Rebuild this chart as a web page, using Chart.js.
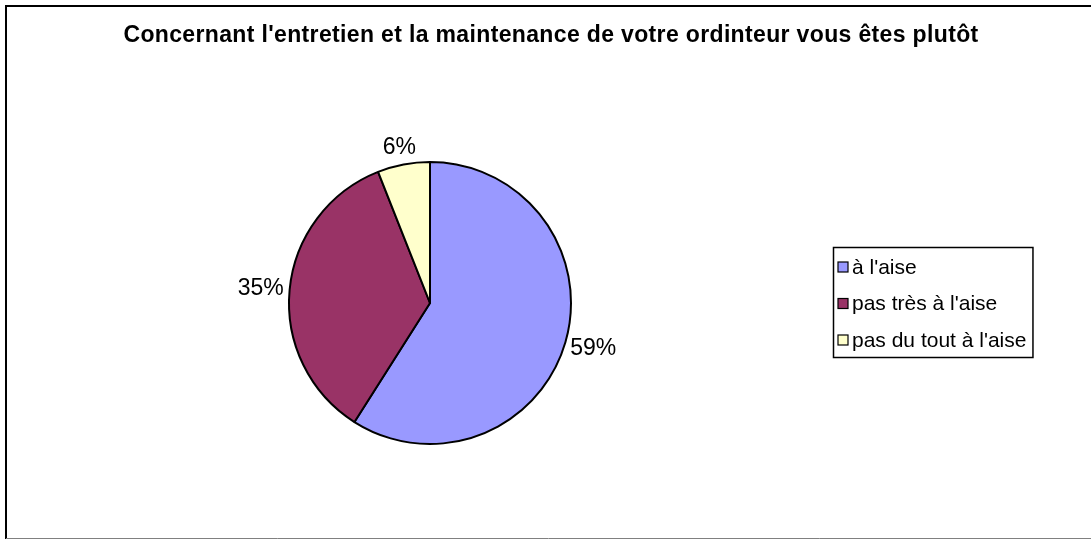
<!DOCTYPE html>
<html><head><meta charset="utf-8">
<script src="https://cdn.jsdelivr.net/npm/chart.js@4"></script>
<style>html,body{margin:0;padding:0;background:#fff;} canvas{display:block;}</style>
</head><body>
<canvas id="c" width="1091" height="540"></canvas>
<script>
const titleText = "Concernant l'entretien et la maintenance de votre ordinteur vous êtes plutôt";
const categories = ["à l'aise", "pas très à l'aise", "pas du tout à l'aise"];
const values = [59, 35, 6];
const valueLabels = ["59%", "35%", "6%"];
const colors = ["#9999FF", "#993366", "#FFFFCC"];

const FONT = '"Liberation Sans", Arial, sans-serif';

const framePlugin = {
  id: 'frame',
  beforeDraw(chart) {
    const ctx = chart.ctx;
    ctx.save();
    ctx.fillStyle = '#fff';
    ctx.fillRect(0, 0, chart.width, chart.height);
    ctx.strokeStyle = '#000';
    ctx.lineWidth = 2;
    ctx.beginPath();
    ctx.moveTo(6, 539); ctx.lineTo(6, 6); ctx.lineTo(chart.width, 6);
    ctx.stroke();
    ctx.strokeStyle = '#808080';
    ctx.lineWidth = 1;
    ctx.beginPath();
    ctx.moveTo(6, 538.5); ctx.lineTo(chart.width, 538.5);
    ctx.stroke();
    ctx.fillStyle = '#000';
    ctx.font = 'bold 23px ' + FONT;
    ctx.letterSpacing = '0.35px';
    ctx.textAlign = 'center';
    ctx.textBaseline = 'middle';
    ctx.fillText(titleText, 551, 36);
    ctx.restore();
  }
};

const labelPlugin = {
  id: 'valueLabels',
  afterDatasetsDraw(chart) {
    const ctx = chart.ctx;
    const meta = chart.getDatasetMeta(0);
    ctx.save();
    ctx.font = '23px ' + FONT;
    ctx.fillStyle = '#000';
    ctx.textAlign = 'center';
    ctx.textBaseline = 'middle';
    meta.data.forEach((arc, i) => {
      const p = arc.getProps(['x', 'y', 'startAngle', 'endAngle', 'outerRadius'], true);
      const mid = (p.startAngle + p.endAngle) / 2;
      const dx = Math.cos(mid), dy = Math.sin(mid);
      const txt = valueLabels[i];
      const w = ctx.measureText(txt).width;
      const h = 24;
      const g = 6;
      const px = p.x + dx * (p.outerRadius + g) + dx * w / 2;
      const py = p.y + dy * (p.outerRadius + g) + dy * h / 2;
      ctx.fillText(txt, px, py + 1);
    });
    ctx.restore();
  }
};

const legendPlugin = {
  id: 'customLegend',
  afterDraw(chart) {
    const ctx = chart.ctx;
    ctx.save();
    ctx.font = '21px ' + FONT;
    const left = 833, top = 247, rowH = 36.5, firstRow = 267;
    let maxW = 0;
    categories.forEach(c => { maxW = Math.max(maxW, ctx.measureText(c).width); });
    const boxW = 19 + maxW + 6;
    const boxH = 110;
    ctx.fillStyle = '#fff';
    ctx.fillRect(left, top, boxW, boxH);
    ctx.strokeStyle = '#000';
    ctx.lineWidth = 1.5;
    ctx.strokeRect(left + 0.5, top + 0.5, boxW, boxH);
    ctx.textAlign = 'left';
    ctx.textBaseline = 'middle';
    categories.forEach((c, i) => {
      const cy = firstRow + i * rowH;
      ctx.fillStyle = colors[i];
      ctx.fillRect(left + 5, cy - 5, 10, 10);
      ctx.strokeStyle = '#000';
      ctx.lineWidth = 1.2;
      ctx.strokeRect(left + 5, cy - 5, 10, 10);
      ctx.fillStyle = '#000';
      ctx.fillText(c, left + 19, cy + 1);
    });
    ctx.restore();
  }
};

new Chart(document.getElementById('c'), {
  type: 'pie',
  data: {
    labels: categories,
    datasets: [{
      data: values,
      backgroundColor: colors,
      borderColor: '#000',
      borderWidth: 2,
      hoverOffset: 0
    }]
  },
  options: {
    responsive: false,
    animation: false,
    devicePixelRatio: 1,
    events: [],
    layout: { padding: { left: 288, right: 519, top: 161, bottom: 95 } },
    plugins: {
      legend: { display: false },
      title: { display: false },
      tooltip: { enabled: false }
    }
  },
  plugins: [framePlugin, labelPlugin, legendPlugin]
});
</script>
</body></html>
